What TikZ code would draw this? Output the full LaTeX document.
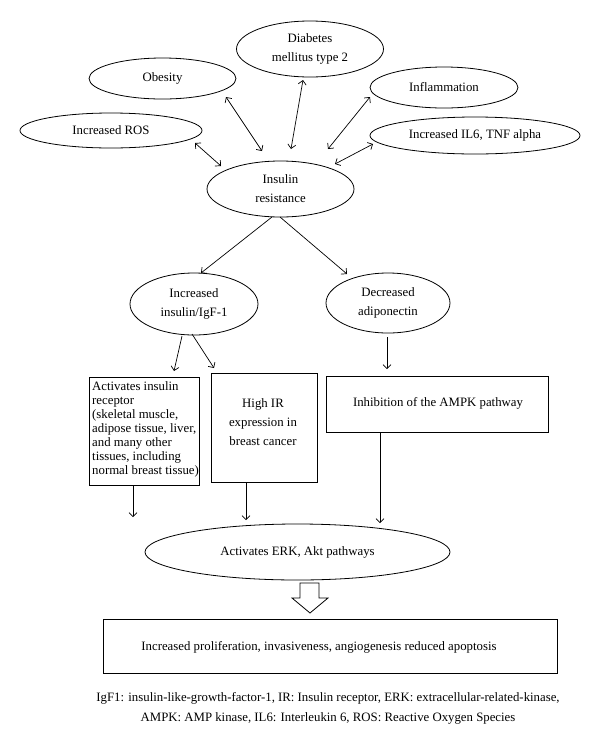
\documentclass[tikz,border=0pt]{standalone}
\usepackage{fontspec}
\setmainfont{Liberation Serif}
\usetikzlibrary{arrows.meta,shapes.geometric}
\newcommand\dfont{\fontsize{12.8pt}{19pt}\selectfont}
\newcommand\dfonttight{\fontsize{12.8pt}{14pt}\selectfont}
\begin{document}
\begin{tikzpicture}[x=1pt,y=-1pt,
  ell/.style={draw, ellipse, inner sep=0pt, line width=0.8pt, align=center, font=\dfont},
  boxshape/.style={draw, rectangle, inner sep=0pt, line width=0.8pt},
  txt/.style={inner sep=0pt, align=center, font=\dfont},
  arr/.style={-{Straight Barb[length=4pt,width=8pt]}, line width=0.7pt},
  darr/.style={{Straight Barb[length=4pt,width=8pt]}-{Straight Barb[length=4pt,width=8pt]}, line width=0.7pt}]
\useasboundingbox (0,0) rectangle (600,732);
\fill[white] (0,0) rectangle (600,732);

% top ellipses
\node[ell, minimum width=147pt, minimum height=41pt] (obes) at (162.5,78.5) {Obesity};
\node[ell, minimum width=147pt, minimum height=56pt] (diab) at (310,49) {Diabetes\\mellitus type 2};
\node[ell, minimum width=148pt, minimum height=41pt] (infl) at (444,87.5) {Inflammation};
\node[ell, minimum width=182pt, minimum height=35pt] (ros) at (111,130.5) {Increased ROS};
\node[ell, minimum width=210pt, minimum height=37pt] (il6) at (475,135.5) {Increased IL6, TNF alpha};
\node[ell, minimum width=147pt, minimum height=56pt] (ir) at (280.5,189) {Insulin\\resistance};

% second level
\node[ell, minimum width=128pt, minimum height=62pt] (ins) at (194,304) {Increased\\insulin/IgF-1};
\node[ell, minimum width=124pt, minimum height=60pt] (adip) at (388,303) {Decreased\\adiponectin};

% boxes
\node[boxshape, minimum width=110pt, minimum height=108pt] (boxL) at (144,431) {};
\node[txt, align=left, font=\dfonttight, anchor=west] (boxLt) at (92,429) {Activates insulin\\receptor\\(skeletal muscle,\\adipose tissue, liver,\\and many other\\tissues, including\\normal breast tissue)};
\node[boxshape, minimum width=106pt, minimum height=109pt] (boxM) at (264,427.5) {};
\node[txt] (boxMt) at (263,422.5) {High IR\\expression in\\breast cancer};
\node[boxshape, minimum width=222pt, minimum height=56pt] (boxR) at (437,404) {};
\node[txt] (boxRt) at (438,403) {Inhibition of the AMPK pathway};

% ERK ellipse
\node[ell, minimum width=305pt, minimum height=56pt] (erk) at (297.5,552) {Activates ERK, Akt pathways};

% bottom box
\node[boxshape, minimum width=454pt, minimum height=54pt] (bot) at (330,646) {};
\node[txt] (bott) at (319,647) {Increased proliferation, invasiveness, angiogenesis reduced apoptosis};

% footnote
\node[txt, font=\fontsize{12.8pt}{20pt}\selectfont] (foot) at (328,708) {IgF1: insulin-like-growth-factor-1, IR: Insulin receptor, ERK: extracellular-related-kinase,\\AMPK: AMP kinase, IL6: Interleukin 6, ROS: Reactive Oxygen Species};

% connector end points
\coordinate (rosA) at (195,143);  \coordinate (rosB) at (221,166);
\coordinate (obA) at (226,97);    \coordinate (obB) at (262,151);
\coordinate (diA) at (303,80);    \coordinate (diB) at (291,149);
\coordinate (inA) at (370,97);    \coordinate (inB) at (328,149);
\coordinate (ilA) at (373,144);   \coordinate (ilB) at (335,164);
\coordinate (irL) at (272,217);   \coordinate (insT) at (201,273);
\coordinate (irR) at (280,217);   \coordinate (adT) at (347,274);
\coordinate (insL) at (182,336);  \coordinate (bLT) at (174,371);
\coordinate (insR) at (192,334);  \coordinate (bMT) at (214,368);
\coordinate (adB) at (387,337);   \coordinate (bRT) at (387,369);
\coordinate (bLB) at (133,485);   \coordinate (erkL) at (133,517);
\coordinate (bMB) at (246,483);   \coordinate (erkM) at (246,520);
\coordinate (bRB) at (380,432);   \coordinate (erkR) at (380,523);

\draw[darr] (rosA) -- (rosB);
\draw[darr] (obA) -- (obB);
\draw[darr] (diA) -- (diB);
\draw[darr] (inA) -- (inB);
\draw[darr] (ilA) -- (ilB);
\draw[arr] (irL) -- (insT);
\draw[arr] (irR) -- (adT);
\draw[arr] (insL) -- (bLT);
\draw[arr] (insR) -- (bMT);
\draw[arr] (adB) -- (bRT);
\draw[arr] (bLB) -- (erkL);
\draw[arr] (bMB) -- (erkM);
\draw[arr] (bRB) -- (erkR);

% big hollow arrow erk -> bot
\draw[line width=0.8pt, line join=miter] (300,583) -- (319,583) -- (319,598) -- (328,598) -- (310,613) -- (292,598) -- (300,598) -- cycle;
\end{tikzpicture}
\end{document}
